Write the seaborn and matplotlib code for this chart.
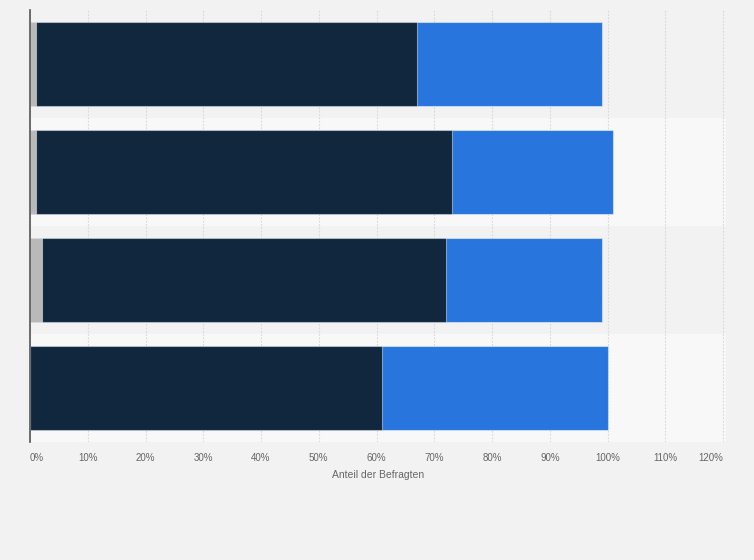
import pandas as pd
import seaborn as sns
import matplotlib.pyplot as plt
from matplotlib.ticker import FuncFormatter

# Werte (in %)
kategorien = ['Gruppe 1', 'Gruppe 2', 'Gruppe 3', 'Gruppe 4']
grau = [1, 1, 2, 0]
dunkel = [66, 72, 70, 61]
blau = [32, 28, 27, 39]

df = pd.DataFrame({'Kategorie': kategorien, 'grau': grau, 'dunkel': dunkel, 'blau': blau})
df['cum_grau'] = df['grau']
df['cum_dunkel'] = df['grau'] + df['dunkel']
df['cum_blau'] = df['cum_dunkel'] + df['blau']

sns.set_style('white')
plt.rcParams['font.family'] = ['Liberation Sans', 'DejaVu Sans']

fig = plt.figure(figsize=(7.54, 5.6), dpi=100, facecolor='#f2f2f2')
ax = fig.add_axes([30 / 754, 1 - 442 / 560, 696 / 754, 432 / 560])
ax.set_facecolor('#f2f2f2')

# abwechselnde Hintergrundstreifen
for i in range(len(kategorien)):
    ax.axhspan(i - 0.5, i + 0.5, color='#f2f2f2' if i % 2 == 0 else '#f8f8f8', zorder=0, lw=0)

# gestapelte Balken: von hinten nach vorne
kw = dict(orient='h', width=0.77, saturation=1, edgecolor=(1, 1, 1, 0.45), linewidth=0.8, ax=ax, zorder=3)
sns.barplot(data=df, x='cum_blau', y='Kategorie', color='#2876dd', **kw)
sns.barplot(data=df, x='cum_dunkel', y='Kategorie', color='#11273d', **kw)
sns.barplot(data=df, x='cum_grau', y='Kategorie', color='#b9b9b9', **kw)

ax.set_xlim(0, 120.5)
ax.set_ylim(3.5, -0.5)
ax.set_xticks(range(0, 121, 10))
ax.xaxis.set_major_formatter(FuncFormatter(lambda v, p: f'{int(v)}%'))
ax.grid(axis='x', color='#d8d8d8', linestyle=(0, (1.5, 1.5)), linewidth=0.8, zorder=1)
ax.set_axisbelow(True)
ax.tick_params(axis='x', length=0, labelsize=7, labelcolor='#666666', pad=8)
ax.set_yticks([])
ax.set_ylabel('')
ax.set_xlabel('Anteil der Befragten', fontsize=7.5, color='#666666', labelpad=5)

labels = ax.get_xticklabels()
labels[0].set_horizontalalignment('left')
labels[-1].set_horizontalalignment('right')

for s in ['top', 'right', 'bottom']:
    ax.spines[s].set_visible(False)
ax.spines['left'].set_color('#555555')
ax.spines['left'].set_linewidth(1.2)
ax.spines['left'].set_zorder(5)

fig.savefig('out.png', dpi=100, facecolor=fig.get_facecolor())
